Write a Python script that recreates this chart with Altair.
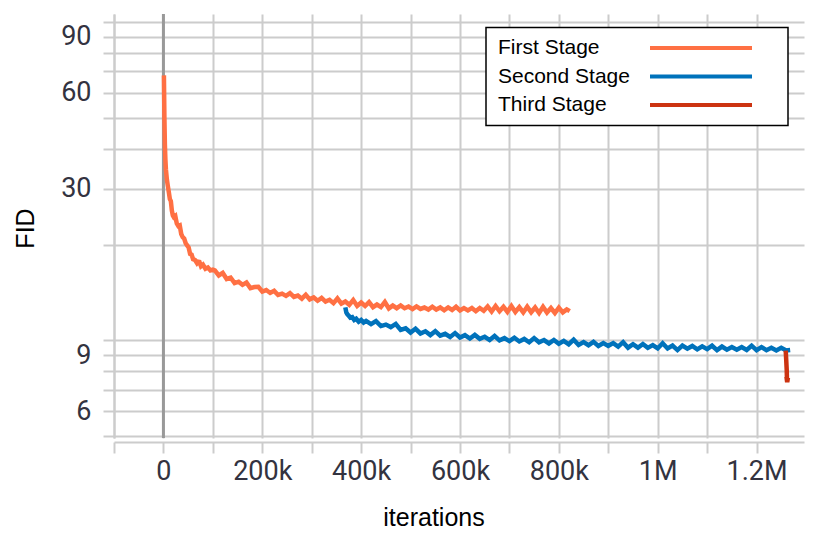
import altair as alt
import pandas as pd

# ---------------- data ----------------
stages = ["First Stage", "Second Stage", "Third Stage"]
stage_colors = ["#FF7043", "#0072BB", "#CC3311"]

# iterations in thousands
first_iter_k = [1, 2, 3, 4, 5, 7, 9, 11, 13, 15, 17, 19, 21, 24, 27, 30, 33, 36, 39, 42,
                45, 48, 51, 54, 57, 60, 64, 68, 72, 76, 80, 85, 90, 95, 100,
                104, 112, 120, 128, 136, 144, 152, 160, 168, 176, 184, 192, 200, 208, 216,
                224, 232, 240, 248, 256, 264, 272, 280, 288, 296, 304, 312, 320, 328, 336,
                344, 352, 360, 368, 376, 384, 392, 400, 408, 416, 424, 432, 440, 448, 456,
                464, 472, 480, 488, 496, 504, 512, 520, 528, 536, 544, 552, 560, 568, 576,
                584, 592, 600, 608, 616, 624, 632, 640, 648, 656, 664, 672, 680, 688, 696,
                704, 712, 720, 728, 736, 744, 752, 760, 768, 776, 784, 792, 800, 808, 816, 822]
first_fid = [68.0, 50.0, 41.0, 37.0, 34.5, 32.0, 30.5, 29.2, 27.8, 27.4, 25.6, 24.7, 24.4, 24.6,
             23.3, 22.9, 23.0, 21.6, 21.1, 20.9, 20.2, 19.9, 19.6, 18.7, 18.6, 18.0, 17.9, 17.5,
             17.8, 17.1, 17.3, 16.8, 16.95, 16.6, 16.7,
             16.6, 16.0, 16.3, 15.6, 15.75, 15.15, 15.3, 14.95, 15.2, 14.6, 14.72, 14.75, 14.25,
             14.4, 14.1, 14.32, 13.9, 14.03, 13.8, 14.08, 13.7, 13.84, 13.53, 13.92, 13.46, 13.65,
             13.33, 13.6, 13.25, 13.42, 13.1, 13.55, 13.05, 13.25, 12.94, 13.4, 12.84, 13.16,
             12.83, 13.2, 12.72, 12.97, 12.73, 13.21, 12.61, 12.87, 12.63, 12.88, 12.62, 12.78,
             12.55, 12.79, 12.56, 12.69, 12.51, 12.77, 12.51, 12.7, 12.44, 12.7, 12.47, 12.76,
             12.43, 12.64, 12.43, 12.64, 12.36, 12.65, 12.4, 12.79, 12.33, 12.83, 12.35, 12.76,
             12.3, 12.83, 12.29, 12.73, 12.25, 12.77, 12.26, 12.69, 12.2, 12.75, 12.24, 12.64,
             12.2, 12.68, 12.25, 12.52, 12.36]

second_iter_k = [368, 370, 372, 375, 378, 382, 386, 390, 395, 400, 405,
                 410, 420, 430, 440, 450, 460, 470, 480, 490, 500, 510, 520, 530, 540, 550,
                 560, 570, 580, 590, 600, 610, 620, 630, 640, 650, 660, 670, 680, 690, 700,
                 710, 720, 730, 740, 750, 760, 770, 780, 790, 800, 810, 820, 830, 840, 850,
                 860, 870, 880, 890, 900, 910, 920, 930, 940, 950, 960, 970, 980, 990, 1000,
                 1010, 1020, 1030, 1040, 1050, 1060, 1070, 1080, 1090, 1100, 1110, 1120, 1130,
                 1140, 1150, 1160, 1170, 1180, 1190, 1200, 1210, 1220, 1230, 1240, 1250, 1260, 1268]
second_fid = [12.7, 12.25, 12.1, 11.95, 11.8, 11.85, 11.6, 11.7, 11.45, 11.6, 11.38,
              11.52, 11.25, 11.5, 11.1, 11.22, 11.02, 11.27, 10.8, 10.92, 10.59, 10.88, 10.52,
              10.69, 10.4, 10.7, 10.35, 10.49, 10.26, 10.55, 10.22, 10.39, 10.14, 10.41, 10.12,
              10.27, 10.03, 10.33, 10.01, 10.17, 9.95, 10.2, 9.93, 10.11, 9.87, 10.17, 9.87,
              10.03, 9.79, 10.04, 9.77, 9.97, 9.73, 10.06, 9.68, 9.88, 9.66, 9.9, 9.61, 9.82,
              9.62, 9.81, 9.57, 9.88, 9.49, 9.73, 9.49, 9.75, 9.48, 9.67, 9.44, 9.8, 9.44, 9.64,
              9.33, 9.64, 9.42, 9.61, 9.38, 9.58, 9.39, 9.63, 9.33, 9.57, 9.36, 9.54, 9.35, 9.54,
              9.34, 9.63, 9.32, 9.53, 9.32, 9.49, 9.3, 9.48, 9.3, 9.33]

third_iter_k = [1259, 1260, 1261, 1261.5, 1260.5, 1262, 1263.5]
third_fid = [9.3, 8.7, 8.1, 7.6, 7.7, 7.4, 7.65]

x_tick_values = list(range(-100000, 1200001, 100000))
y_grid_values = [5, 6, 7, 8, 9, 10, 20, 30, 40, 50, 60, 70, 80, 90, 100]
y_label_values = [6, 9, 30, 60, 90]

# ---------------- table ----------------
rows = []
for stage, its, fids in zip(stages, [first_iter_k, second_iter_k, third_iter_k],
                            [first_fid, second_fid, third_fid]):
    for i, (it, f) in enumerate(zip(its, fids)):
        rows.append({"stage": stage, "iterations": it * 1000, "FID": f, "order": i})
df = pd.DataFrame(rows)
zero_df = pd.DataFrame({"iterations": [0]})

GRID = "#cccccc"
LABEL = "#333340"

y_label_expr = "(" + " || ".join(f"datum.value == {v}" for v in y_label_values) + ") ? '' + datum.value : ''"
x_label_expr = ("datum.value == 0 ? '0' : (datum.value / 100000) % 2 != 0 ? '' : "
                "datum.value < 1000000 ? (datum.value / 1000) + 'k' : (datum.value / 1000000) + 'M'")

x_enc = alt.X(
    "iterations:Q",
    scale=alt.Scale(domain=[-100000, 1296000], nice=False, zero=False),
    axis=alt.Axis(
        values=x_tick_values, labelExpr=x_label_expr, grid=True,
        gridColor=GRID, gridWidth=2, domainColor=GRID, domainWidth=2,
        tickColor=GRID, tickWidth=2, tickSize=11, offset=4,
        labelFont="Roboto", labelFontSize=27, labelColor=LABEL, labelPadding=5,
        labelOverlap=False, labelFlush=False,
        title="iterations", titleFont="Liberation Sans", titleFontSize=25,
        titleFontWeight="normal", titleColor="black", titlePadding=21, titleX=319.5,
    ),
)
y_enc = alt.Y(
    "FID:Q",
    scale=alt.Scale(type="log", domain=[4.94, 106], nice=False),
    axis=alt.Axis(
        values=y_grid_values, labelExpr=y_label_expr, grid=True,
        gridColor=GRID, gridWidth=2, domainColor=GRID, domainWidth=2,
        tickColor=GRID, tickWidth=2, tickSize=11,
        labelFont="Roboto", labelFontSize=27, labelColor=LABEL, labelPadding=12,
        labelOverlap=False, labelFlush=False,
        title="FID", titleFont="Liberation Sans", titleFontSize=25,
        titleFontWeight="normal", titleColor="black", titlePadding=22, titleY=214,
    ),
)

zero_rule = alt.Chart(zero_df).mark_rule(color="#999999", strokeWidth=3).encode(
    x=alt.X("iterations:Q")
)

lines = alt.Chart(df).mark_line(strokeWidth=4.5, strokeMiterLimit=2).encode(
    x=x_enc,
    y=y_enc,
    order=alt.Order("order:Q"),
    color=alt.Color(
        "stage:N",
        scale=alt.Scale(domain=stages, range=stage_colors),
        legend=alt.Legend(
            title=None, orient="none", legendX=372, legendY=13.5, direction="vertical",
            padding=10, strokeColor="black", fillColor="white", cornerRadius=0,
            labelFont="Liberation Sans", labelFontSize=21, labelColor="black",
            labelOffset={"expr": "-19"}, labelLimit=300,
            symbolType="M 28.7 0 L 49.1 0 M 52.7 0", symbolSize=100, symbolStrokeWidth=4,
            rowPadding=6.5,
        ),
    ),
)

chart = (
    alt.layer(zero_rule, lines)
    .properties(
        width=690, height=424,
        padding={"left": 106, "top": 6, "right": 10, "bottom": 96},
        autosize=alt.AutoSizeParams(type="none"),
        background="white",
    )
    .configure_view(stroke=None)
    .configure_legend(strokeWidth=1.5)
)

chart.save("out.html", embed_options={"renderer": "svg", "actions": False})
